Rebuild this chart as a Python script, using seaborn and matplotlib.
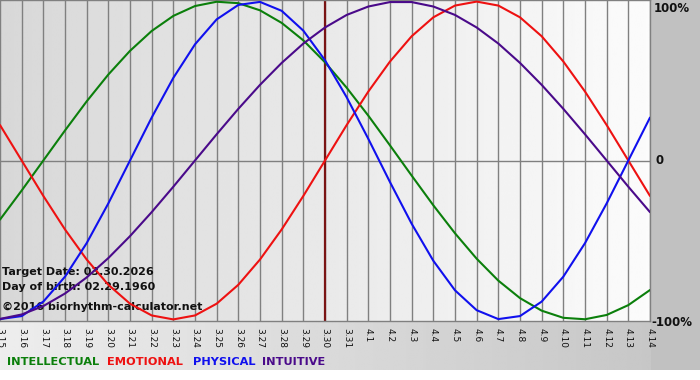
import numpy as np
import pandas as pd
import seaborn as sns
import matplotlib as mpl
mpl.use("Agg")
import matplotlib.pyplot as plt


# Biorhythm values (fraction of 100%), one per day
days = ["3.15", "3.16", "3.17", "3.18", "3.19", "3.20", "3.21", "3.22", "3.23",
        "3.24", "3.25", "3.26", "3.27", "3.28", "3.29", "3.30", "3.31", "4.1",
        "4.2", "4.3", "4.4", "4.5", "4.6", "4.7", "4.8", "4.9", "4.10", "4.11",
        "4.12", "4.13", "4.14"]

intellectual = [-0.372, -0.189, 0.0, 0.189, 0.372, 0.541, 0.690, 0.815, 0.910,
                0.972, 0.999, 0.990, 0.945, 0.866, 0.756, 0.618, 0.458, 0.282,
                0.095, -0.095, -0.282, -0.458, -0.618, -0.756, -0.866, -0.945,
                -0.990, -0.999, -0.972, -0.910, -0.815]

emotional = [0.223, 0.0, -0.223, -0.434, -0.623, -0.782, -0.901, -0.975, -1.0,
             -0.975, -0.901, -0.782, -0.623, -0.434, -0.223, 0.0, 0.223, 0.434,
             0.623, 0.782, 0.901, 0.975, 1.0, 0.975, 0.901, 0.782, 0.623, 0.434,
             0.223, 0.0, -0.223]

physical = [-0.998, -0.979, -0.888, -0.731, -0.520, -0.270, 0.0, 0.270, 0.520,
            0.731, 0.888, 0.979, 0.998, 0.942, 0.817, 0.631, 0.398, 0.136,
            -0.136, -0.398, -0.631, -0.817, -0.942, -0.998, -0.979, -0.888,
            -0.731, -0.520, -0.270, 0.0, 0.270]

intuitive = [-0.997, -0.969, -0.916, -0.837, -0.736, -0.614, -0.476, -0.325,
             -0.165, 0.0, 0.165, 0.325, 0.476, 0.614, 0.736, 0.837, 0.916,
             0.969, 0.997, 0.997, 0.969, 0.916, 0.837, 0.736, 0.614, 0.476,
             0.325, 0.165, 0.0, -0.165, -0.325]

target_day = "3.30"
info_lines = ["Target Date: 03.30.2026", "Day of birth: 02.29.1960",
              "\u00a92016 biorhythm-calculator.net"]
y_labels = ["100%", "0", "-100%"]

colors = {"INTELLECTUAL": "#0b7f0b", "EMOTIONAL": "#ee1111",
          "PHYSICAL": "#1010ee", "INTUITIVE": "#4a0a8a"}

sns.set_style("white")
plt.rcParams["font.family"] = ["DejaVu Sans"]

W, H = 700, 380
fig = plt.figure(figsize=(7, 3.8), dpi=100)
fig.patch.set_facecolor("white")

# background panels (pixel coords)
bg = fig.add_axes([0, 0, 1, 1], zorder=-1)
bg.axis("off")
bg.imshow(np.linspace(0.845, 0.985, 256)[None, :], cmap="gray", vmin=0, vmax=1,
          extent=(0, 650, 321, 0), aspect="auto", interpolation="bilinear")
bg.imshow(np.linspace(0.93, 0.78, 256)[None, :], cmap="gray", vmin=0, vmax=1,
          extent=(0, 651, 370, 321), aspect="auto", interpolation="bilinear")
bg.imshow(np.full((1, 2), 0.755), cmap="gray", vmin=0, vmax=1,
          extent=(651, 700, 370, 0), aspect="auto")
bg.set_xlim(0, W)
bg.set_ylim(H, 0)

ax = fig.add_axes([0, 1 - 321 / H, 650 / W, 321 / H])
ax.set_facecolor("none")

df = pd.DataFrame({"day": np.arange(len(days)),
                   "INTELLECTUAL": intellectual, "EMOTIONAL": emotional,
                   "PHYSICAL": physical, "INTUITIVE": intuitive})
df_long = df.melt(id_vars="day", var_name="rhythm", value_name="value")

ax.axvline(days.index(target_day), color="#7a1414", lw=1.6, zorder=2.4)
sns.lineplot(data=df_long, x="day", y="value", hue="rhythm", palette=colors,
             lw=1.5, legend=False, ax=ax, zorder=3)

ax.set_xlim(0, len(days) - 1)
ax.set_ylim(-1.01, 1.01)
ax.set_xticks(np.arange(len(days)))
ax.set_xticklabels(days)
ax.set_yticks([])
ax.set_xlabel("")
ax.set_ylabel("")
ax.grid(axis="x", color="#808080", lw=1.0, zorder=1)
ax.set_axisbelow(True)
ax.axhline(0, color="#808080", lw=1.0, zorder=1)
ax.tick_params(axis="x", length=4, width=1, color="#808080", labelsize=6.5,
               pad=1, labelcolor="#111111")
plt.setp(ax.get_xticklabels(), rotation=-90, ha="center", va="top")
for side in ["top", "bottom", "right"]:
    ax.spines[side].set_color("#808080")
    ax.spines[side].set_linewidth(1.0)
ax.spines["left"].set_visible(False)

for txt, ypx in zip(info_lines, [272, 287, 307]):
    ax.text(2 / 650, (321 - ypx) / 321, txt, transform=ax.transAxes,
            fontsize=8, fontweight="bold", color="#111111", va="center",
            ha="left", zorder=2.5)

for lab, xpx, ypx in zip(y_labels, [654, 655, 651], [8, 161, 322]):
    fig.text(xpx / W, 1 - ypx / H, lab, fontsize=8.5, fontweight="bold",
             color="#111111", va="center", ha="left")

for name, xpx in zip(colors, [7, 107, 193, 262]):
    fig.text(xpx / W, 1 - 362 / H, name, fontsize=8.2, fontweight="bold",
             color=colors[name], va="center", ha="left")

fig.savefig("out.png", dpi=100)
